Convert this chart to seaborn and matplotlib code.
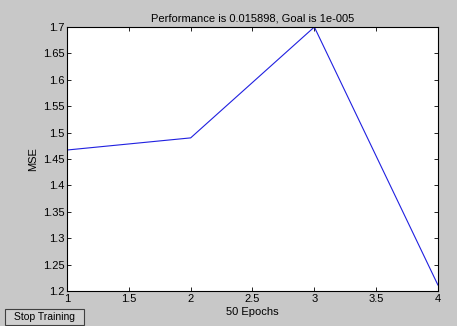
import matplotlib
matplotlib.use("Agg")
import matplotlib.pyplot as plt
import seaborn as sns
import pandas as pd
from matplotlib.patches import Rectangle

# training curve values
epochs = [1, 2, 3, 4]
mse = [1.467, 1.490, 1.700, 1.211]
xticks = [1, 1.5, 2, 2.5, 3, 3.5, 4]
yticks = [1.2, 1.25, 1.3, 1.35, 1.4, 1.45, 1.5, 1.55, 1.6, 1.65, 1.7]

df = pd.DataFrame({"epoch": epochs, "mse": mse})

sns.set_style("ticks")
plt.rcParams['font.family'] = ['Liberation Sans', 'DejaVu Sans']
plt.rcParams['text.color'] = 'black'
plt.rcParams['axes.labelcolor'] = 'black'

fig = plt.figure(figsize=(4.57, 3.26), dpi=100, facecolor="#c8c8c8")
ax = fig.add_axes([67/457, 35/326, 371/457, 264/326])
ax.set_facecolor("white")

sns.lineplot(data=df, x="epoch", y="mse", ax=ax, color="#2020e0", linewidth=0.8)

ax.set_xlim(1, 4)
ax.set_ylim(1.2, 1.7)
ax.set_xticks(xticks)
ax.set_xticklabels([f"{t:g}" for t in xticks])
ax.set_yticks(yticks)
ax.set_yticklabels([f"{t:g}" for t in yticks])
ax.tick_params(direction="in", length=3, width=0.6, labelsize=8, colors="black",
               top=True, right=True, pad=2)
for s in ax.spines.values():
    s.set_visible(True)
    s.set_linewidth(0.8)
    s.set_color("black")

ax.set_title("Performance is 0.015898, Goal is 1e-005", fontsize=8, pad=4, color="black")
ax.set_xlabel("50 Epochs", fontsize=8, labelpad=2)
ax.set_ylabel("MSE", fontsize=8, labelpad=3)

# button
btn = Rectangle((5/457, 1/326), 79/457, 16/326, transform=fig.transFigure,
                facecolor="#d0d0d0", edgecolor="#404040", linewidth=0.8)
fig.patches.append(btn)
fig.text(44.5/457, 9/326, "Stop Training", fontsize=7.5, ha="center", va="center")

fig.savefig("out.png", dpi=100, facecolor=fig.get_facecolor())
